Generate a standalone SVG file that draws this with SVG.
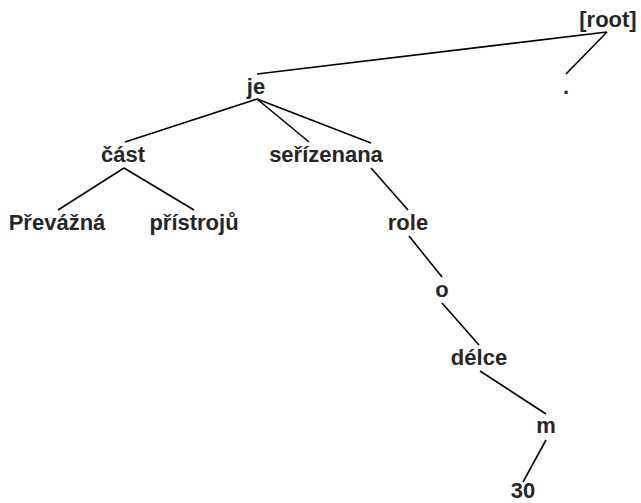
<svg xmlns="http://www.w3.org/2000/svg" width="641" height="503" viewBox="0 0 641 503">
<style>
text{font-family:"Liberation Sans",Arial,sans-serif;font-weight:bold;font-size:22px;fill:#262626;text-anchor:middle}
line{stroke:#000;stroke-width:1.6}
</style>
<rect width="641" height="503" fill="#fff"/>
<g id="edges">
<line x1="607" y1="32" x2="257" y2="74"/>
<line x1="607" y1="32" x2="566" y2="74"/>
<line x1="257" y1="99" x2="125" y2="142"/>
<line x1="257" y1="99" x2="309" y2="142"/>
<line x1="257" y1="99" x2="371" y2="143"/>
<line x1="124" y1="168" x2="58" y2="210"/>
<line x1="124" y1="168" x2="194" y2="210"/>
<line x1="371" y1="168" x2="408" y2="210"/>
<line x1="409" y1="236" x2="442" y2="277"/>
<line x1="442" y1="303" x2="479" y2="345"/>
<line x1="480" y1="371" x2="546" y2="414"/>
<line x1="546" y1="440" x2="523" y2="482"/>
</g>
<g id="n-root"><text x="608" y="27">[root]</text></g>
<g id="n-je"><text x="256" y="94">je</text></g>
<g id="n-dot"><text x="566" y="94">.</text></g>
<g id="n-cast"><text x="123" y="162">část</text></g>
<g id="n-serizenana"><text x="326" y="162">seřízenana</text></g>
<g id="n-prevazna"><text x="57" y="230">Převážná</text></g>
<g id="n-pristroju"><text x="194" y="230">přístrojů</text></g>
<g id="n-role"><text x="408" y="230">role</text></g>
<g id="n-o"><text x="442" y="297">o</text></g>
<g id="n-delce"><text x="479" y="365">délce</text></g>
<g id="n-m"><text x="546" y="433">m</text></g>
<g id="n-30"><text x="523" y="498">30</text></g>
</svg>
